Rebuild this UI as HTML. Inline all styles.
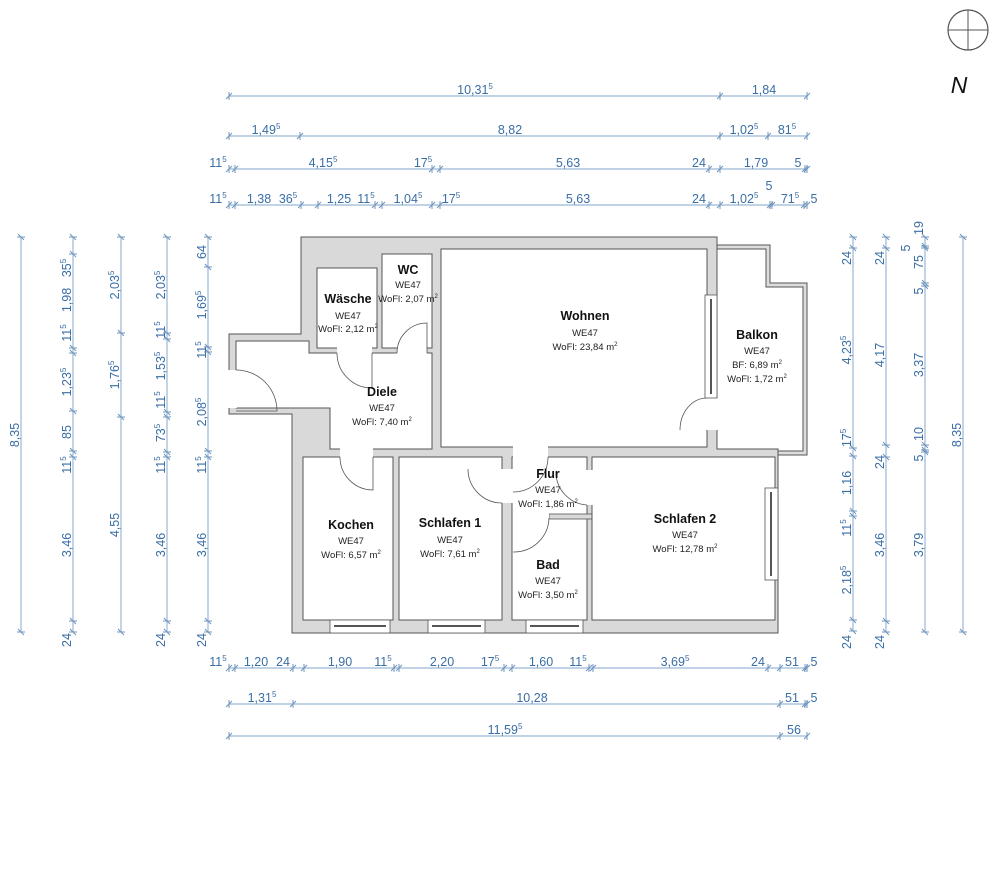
<!DOCTYPE html>
<html><head><meta charset="utf-8"><style>
html,body{margin:0;padding:0;background:#fff}
svg{display:block}
.d{fill:none;stroke:#9bb8d6;stroke-width:1.2;marker-start:url(#t);marker-mid:url(#t);marker-end:url(#t)}
.dt{font-family:"Liberation Sans",sans-serif;font-size:12.5px;fill:#3a6ea5;text-anchor:middle}
.rn{font-family:"Liberation Sans",sans-serif;font-size:12.5px;font-weight:bold;fill:#111;text-anchor:middle}
.rs{font-family:"Liberation Sans",sans-serif;font-size:9.5px;fill:#222;text-anchor:middle}
.rm{fill:#fff;stroke:#555;stroke-width:1}
.dr{fill:none;stroke:#555;stroke-width:0.8}
.win{fill:#fff;stroke:#555;stroke-width:0.8}
</style></head><body>
<svg width="1000" height="869" viewBox="0 0 1000 869" xmlns="http://www.w3.org/2000/svg">
<defs>
<marker id="t" markerWidth="10" markerHeight="10" refX="0" refY="0" viewBox="-5 -5 10 10" orient="auto" markerUnits="userSpaceOnUse">
<path d="M0,-4 L0,4 M-3,3 L3,-3" stroke="#6f95bd" stroke-width="1" fill="none"/>
</marker>
</defs>

<!-- compass -->
<circle cx="968" cy="30" r="20" fill="none" stroke="#555" stroke-width="1.2"/>
<line x1="948" y1="30" x2="988" y2="30" stroke="#555"/>
<line x1="968" y1="10" x2="968" y2="50" stroke="#555"/>
<text x="959" y="93" font-family="Liberation Sans,sans-serif" font-size="23" font-style="italic" fill="#111" text-anchor="middle">N</text>

<!-- balcony outline -->
<polyline points="717,247 768,247 768,285 805,285 805,453 778,453" fill="none" stroke="#555" stroke-width="5"/>
<polyline points="717,247 768,247 768,285 805,285 805,453 778,453" fill="none" stroke="#ddd" stroke-width="3"/>

<!-- footprint -->
<polygon points="301,237 717,237 717,449 778,449 778,633 292,633 292,414 229,414 229,334 301,334" fill="#d9d9d9" stroke="#555" stroke-width="1"/>

<!-- rooms -->
<rect class="rm" x="317" y="268" width="60" height="80"/>
<rect class="rm" x="382" y="254" width="50" height="94"/>
<rect class="rm" x="441" y="249" width="266" height="198"/>
<polygon class="rm" points="236,341 309,341 309,353 432,353 432,449 330,449 330,408 236,408"/>
<rect class="rm" x="303" y="457" width="90" height="163"/>
<rect class="rm" x="399" y="457" width="103" height="163"/>
<rect class="rm" x="512" y="457" width="75" height="163"/>
<rect x="549" y="514" width="43" height="5" fill="#d9d9d9" stroke="#555" stroke-width="0.8"/>
<rect class="rm" x="592" y="457" width="183" height="163"/>

<!-- door gaps -->
<rect x="337" y="347" width="35" height="7" fill="#fff"/>
<rect x="397" y="347" width="30" height="7" fill="#fff"/>
<rect x="228" y="370" width="9" height="38" fill="#fff"/>
<rect x="340" y="447" width="33" height="11" fill="#fff"/>
<rect x="513" y="446" width="35" height="12" fill="#fff"/>
<rect x="501" y="469" width="12" height="34" fill="#fff"/>
<rect x="586" y="470" width="7" height="35" fill="#fff"/>
<rect x="513" y="513" width="36" height="7" fill="#fff"/>
<rect x="706" y="398" width="12" height="32" fill="#fff"/>

<!-- door arcs -->
<path class="dr" d="M337,353 A35,35 0 0 0 372,388 L372,353"/>
<path class="dr" d="M397,353 A30,30 0 0 1 427,323 L427,353"/>
<path class="dr" d="M236,370 A41,41 0 0 1 277,411 L236,411"/>
<path class="dr" d="M340,457 A33,33 0 0 0 373,490 L373,457"/>
<path class="dr" d="M513,492 A35,35 0 0 0 548,457"/>
<path class="dr" d="M468,469 A34,34 0 0 0 502,503"/>
<path class="dr" d="M513,552 A35,35 0 0 0 549,518"/>
<path class="dr" d="M556,472 A33,33 0 0 0 587,505"/>
<path class="dr" d="M680,430 A27,32 0 0 1 707,398"/>

<!-- windows -->
<rect class="win" x="330" y="620" width="60" height="13"/><line x1="334" y1="626" x2="386" y2="626" stroke="#555" stroke-width="2"/>
<rect class="win" x="428" y="620" width="57" height="13"/><line x1="432" y1="626" x2="481" y2="626" stroke="#555" stroke-width="2"/>
<rect class="win" x="526" y="620" width="57" height="13"/><line x1="530" y1="626" x2="579" y2="626" stroke="#555" stroke-width="2"/>
<rect class="win" x="765" y="488" width="13" height="92"/><line x1="771" y1="492" x2="771" y2="576" stroke="#555" stroke-width="2"/>
<rect class="win" x="705" y="295" width="12" height="103"/><line x1="711" y1="299" x2="711" y2="394" stroke="#555" stroke-width="2"/>

<!-- room labels -->
<text class="rn" x="348" y="303">Wäsche</text><text class="rs" x="348" y="319">WE47</text><text class="rs" x="348" y="332">WoFl: 2,12 m<tspan dy="-4" font-size="6">2</tspan></text>
<text class="rn" x="408" y="274">WC</text><text class="rs" x="408" y="288">WE47</text><text class="rs" x="408" y="302">WoFl: 2,07 m<tspan dy="-4" font-size="6">2</tspan></text>
<text class="rn" x="585" y="320">Wohnen</text><text class="rs" x="585" y="336">WE47</text><text class="rs" x="585" y="350">WoFl: 23,84 m<tspan dy="-4" font-size="6">2</tspan></text>
<text class="rn" x="757" y="339">Balkon</text><text class="rs" x="757" y="354">WE47</text><text class="rs" x="757" y="368">BF: 6,89 m<tspan dy="-4" font-size="6">2</tspan></text><text class="rs" x="757" y="382">WoFl: 1,72 m<tspan dy="-4" font-size="6">2</tspan></text>
<text class="rn" x="382" y="396">Diele</text><text class="rs" x="382" y="411">WE47</text><text class="rs" x="382" y="425">WoFl: 7,40 m<tspan dy="-4" font-size="6">2</tspan></text>
<text class="rn" x="351" y="529">Kochen</text><text class="rs" x="351" y="544">WE47</text><text class="rs" x="351" y="558">WoFl: 6,57 m<tspan dy="-4" font-size="6">2</tspan></text>
<text class="rn" x="450" y="527">Schlafen 1</text><text class="rs" x="450" y="543">WE47</text><text class="rs" x="450" y="557">WoFl: 7,61 m<tspan dy="-4" font-size="6">2</tspan></text>
<text class="rn" x="548" y="478">Flur</text><text class="rs" x="548" y="493">WE47</text><text class="rs" x="548" y="507">WoFl: 1,86 m<tspan dy="-4" font-size="6">2</tspan></text>
<text class="rn" x="548" y="569">Bad</text><text class="rs" x="548" y="584">WE47</text><text class="rs" x="548" y="598">WoFl: 3,50 m<tspan dy="-4" font-size="6">2</tspan></text>
<text class="rn" x="685" y="523">Schlafen 2</text><text class="rs" x="685" y="538">WE47</text><text class="rs" x="685" y="552">WoFl: 12,78 m<tspan dy="-4" font-size="6">2</tspan></text>

<!-- top dimensions -->
<polyline class="d" points="229,96 720,96 807,96"/>
<text class="dt" x="475" y="94">10,31<tspan dy="-5" font-size="8">5</tspan></text>
<text class="dt" x="764" y="94">1,84</text>

<polyline class="d" points="229,136 300,136 720,136 768,136 807,136"/>
<text class="dt" x="266" y="134">1,49<tspan dy="-5" font-size="8">5</tspan></text>
<text class="dt" x="510" y="134">8,82</text>
<text class="dt" x="744" y="134">1,02<tspan dy="-5" font-size="8">5</tspan></text>
<text class="dt" x="787" y="134">81<tspan dy="-5" font-size="8">5</tspan></text>

<polyline class="d" points="229,169 235,169 432,169 440,169 709,169 720,169 805,169 807,169"/>
<text class="dt" x="218" y="167">11<tspan dy="-5" font-size="8">5</tspan></text>
<text class="dt" x="323" y="167">4,15<tspan dy="-5" font-size="8">5</tspan></text>
<text class="dt" x="423" y="167">17<tspan dy="-5" font-size="8">5</tspan></text>
<text class="dt" x="568" y="167">5,63</text>
<text class="dt" x="699" y="167">24</text>
<text class="dt" x="756" y="167">1,79</text>
<text class="dt" x="798" y="167">5</text>

<polyline class="d" points="229,205 235,205 301,205 318,205 375,205 382,205 432,205 440,205 709,205 720,205 770,205 772,205 804,205 807,205"/>
<text class="dt" x="218" y="203">11<tspan dy="-5" font-size="8">5</tspan></text>
<text class="dt" x="259" y="203">1,38</text>
<text class="dt" x="288" y="203">36<tspan dy="-5" font-size="8">5</tspan></text>
<text class="dt" x="339" y="203">1,25</text>
<text class="dt" x="366" y="203">11<tspan dy="-5" font-size="8">5</tspan></text>
<text class="dt" x="408" y="203">1,04<tspan dy="-5" font-size="8">5</tspan></text>
<text class="dt" x="451" y="203">17<tspan dy="-5" font-size="8">5</tspan></text>
<text class="dt" x="578" y="203">5,63</text>
<text class="dt" x="699" y="203">24</text>
<text class="dt" x="744" y="203">1,02<tspan dy="-5" font-size="8">5</tspan></text>
<text class="dt" x="769" y="190">5</text>
<text class="dt" x="790" y="203">71<tspan dy="-5" font-size="8">5</tspan></text>
<text class="dt" x="814" y="203">5</text>

<!-- bottom dimensions -->
<polyline class="d" points="229,668 235,668 293,668 304,668 394,668 399,668 504,668 512,668 589,668 593,668 768,668 780,668 805,668 807,668"/>
<text class="dt" x="218" y="666">11<tspan dy="-5" font-size="8">5</tspan></text>
<text class="dt" x="256" y="666">1,20</text>
<text class="dt" x="283" y="666">24</text>
<text class="dt" x="340" y="666">1,90</text>
<text class="dt" x="383" y="666">11<tspan dy="-5" font-size="8">5</tspan></text>
<text class="dt" x="442" y="666">2,20</text>
<text class="dt" x="490" y="666">17<tspan dy="-5" font-size="8">5</tspan></text>
<text class="dt" x="541" y="666">1,60</text>
<text class="dt" x="578" y="666">11<tspan dy="-5" font-size="8">5</tspan></text>
<text class="dt" x="675" y="666">3,69<tspan dy="-5" font-size="8">5</tspan></text>
<text class="dt" x="758" y="666">24</text>
<text class="dt" x="792" y="666">51</text>
<text class="dt" x="814" y="666">5</text>

<polyline class="d" points="229,704 293,704 780,704 805,704 807,704"/>
<text class="dt" x="262" y="702">1,31<tspan dy="-5" font-size="8">5</tspan></text>
<text class="dt" x="532" y="702">10,28</text>
<text class="dt" x="792" y="702">51</text>
<text class="dt" x="814" y="702">5</text>

<polyline class="d" points="229,736 780,736 807,736"/>
<text class="dt" x="505" y="734">11,59<tspan dy="-5" font-size="8">5</tspan></text>
<text class="dt" x="794" y="734">56</text>

<!-- left dimensions -->
<polyline class="d" points="21,237 21,632"/>
<text class="dt" transform="translate(19,435) rotate(-90)">8,35</text>

<polyline class="d" points="73,237 73,254 73,348 73,353 73,411 73,451 73,457 73,621 73,632"/>
<g transform="translate(71,0)">
<text class="dt" transform="translate(0,268) rotate(-90)">35<tspan dy="-5" font-size="8">5</tspan></text>
<text class="dt" transform="translate(0,300) rotate(-90)">1,98</text>
<text class="dt" transform="translate(0,333) rotate(-90)">11<tspan dy="-5" font-size="8">5</tspan></text>
<text class="dt" transform="translate(0,382) rotate(-90)">1,23<tspan dy="-5" font-size="8">5</tspan></text>
<text class="dt" transform="translate(0,432) rotate(-90)">85</text>
<text class="dt" transform="translate(0,465) rotate(-90)">11<tspan dy="-5" font-size="8">5</tspan></text>
<text class="dt" transform="translate(0,545) rotate(-90)">3,46</text>
<text class="dt" transform="translate(0,640) rotate(-90)">24</text>
</g>

<polyline class="d" points="121,237 121,333 121,417 121,632"/>
<g transform="translate(119,0)">
<text class="dt" transform="translate(0,285) rotate(-90)">2,03<tspan dy="-5" font-size="8">5</tspan></text>
<text class="dt" transform="translate(0,375) rotate(-90)">1,76<tspan dy="-5" font-size="8">5</tspan></text>
<text class="dt" transform="translate(0,525) rotate(-90)">4,55</text>
</g>

<polyline class="d" points="167,237 167,333 167,339 167,412 167,417 167,452 167,457 167,621 167,632"/>
<g transform="translate(165,0)">
<text class="dt" transform="translate(0,285) rotate(-90)">2,03<tspan dy="-5" font-size="8">5</tspan></text>
<text class="dt" transform="translate(0,330) rotate(-90)">11<tspan dy="-5" font-size="8">5</tspan></text>
<text class="dt" transform="translate(0,366) rotate(-90)">1,53<tspan dy="-5" font-size="8">5</tspan></text>
<text class="dt" transform="translate(0,400) rotate(-90)">11<tspan dy="-5" font-size="8">5</tspan></text>
<text class="dt" transform="translate(0,433) rotate(-90)">73<tspan dy="-5" font-size="8">5</tspan></text>
<text class="dt" transform="translate(0,465) rotate(-90)">11<tspan dy="-5" font-size="8">5</tspan></text>
<text class="dt" transform="translate(0,545) rotate(-90)">3,46</text>
<text class="dt" transform="translate(0,640) rotate(-90)">24</text>
</g>

<polyline class="d" points="208,237 208,267 208,347 208,352 208,451 208,457 208,621 208,632"/>
<g transform="translate(206,0)">
<text class="dt" transform="translate(0,252) rotate(-90)">64</text>
<text class="dt" transform="translate(0,305) rotate(-90)">1,69<tspan dy="-5" font-size="8">5</tspan></text>
<text class="dt" transform="translate(0,350) rotate(-90)">11<tspan dy="-5" font-size="8">5</tspan></text>
<text class="dt" transform="translate(0,412) rotate(-90)">2,08<tspan dy="-5" font-size="8">5</tspan></text>
<text class="dt" transform="translate(0,465) rotate(-90)">11<tspan dy="-5" font-size="8">5</tspan></text>
<text class="dt" transform="translate(0,545) rotate(-90)">3,46</text>
<text class="dt" transform="translate(0,640) rotate(-90)">24</text>
</g>

<!-- right dimensions -->
<polyline class="d" points="853,237 853,248 853,448 853,456 853,511 853,516 853,620 853,631"/>
<g transform="translate(851,0)">
<text class="dt" transform="translate(0,258) rotate(-90)">24</text>
<text class="dt" transform="translate(0,350) rotate(-90)">4,23<tspan dy="-5" font-size="8">5</tspan></text>
<text class="dt" transform="translate(0,438) rotate(-90)">17<tspan dy="-5" font-size="8">5</tspan></text>
<text class="dt" transform="translate(0,483) rotate(-90)">1,16</text>
<text class="dt" transform="translate(0,528) rotate(-90)">11<tspan dy="-5" font-size="8">5</tspan></text>
<text class="dt" transform="translate(0,580) rotate(-90)">2,18<tspan dy="-5" font-size="8">5</tspan></text>
<text class="dt" transform="translate(0,642) rotate(-90)">24</text>
</g>

<polyline class="d" points="886,237 886,248 886,445 886,457 886,621 886,632"/>
<g transform="translate(884,0)">
<text class="dt" transform="translate(0,258) rotate(-90)">24</text>
<text class="dt" transform="translate(0,355) rotate(-90)">4,17</text>
<text class="dt" transform="translate(0,462) rotate(-90)">24</text>
<text class="dt" transform="translate(0,545) rotate(-90)">3,46</text>
<text class="dt" transform="translate(0,642) rotate(-90)">24</text>
</g>

<polyline class="d" points="925,237 925,246 925,248 925,283 925,286 925,445 925,450 925,452 925,632"/>
<g transform="translate(923,0)">
<text class="dt" transform="translate(0,228) rotate(-90)">19</text>
<text class="dt" transform="translate(0,262) rotate(-90)">75</text>
<text class="dt" transform="translate(0,291) rotate(-90)">5</text>
<text class="dt" transform="translate(0,365) rotate(-90)">3,37</text>
<text class="dt" transform="translate(0,434) rotate(-90)">10</text>
<text class="dt" transform="translate(0,458) rotate(-90)">5</text>
<text class="dt" transform="translate(0,545) rotate(-90)">3,79</text>
</g>
<text class="dt" transform="translate(910,248) rotate(-90)">5</text>

<polyline class="d" points="963,237 963,632"/>
<text class="dt" transform="translate(961,435) rotate(-90)">8,35</text>
</svg>
</body></html>
